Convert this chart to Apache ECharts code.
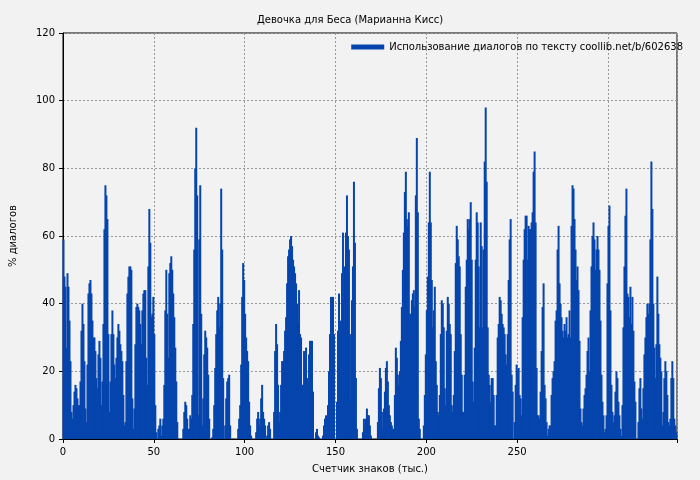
<!DOCTYPE html>
<html><head><meta charset="utf-8">
<script src="https://cdn.jsdelivr.net/npm/echarts@6/dist/echarts.min.js"></script>
<style>html,body{margin:0;padding:0;background:#f2f2f2}#c{width:700px;height:480px}</style>
</head><body><div id="c"></div>
<script>
const title = "Девочка для Беса (Марианна Кисс)";
const seriesName = "Использование диалогов по тексту coollib.net/b/602638";
const xTicks = [0,50,100,150,200,250,300];
const yTicks = [0,20,40,60,80,100,120];
const xStep = 50/91; // thousand chars per column
const seg1 = [59,48,45,27,49,45,35,23,8,6,10,14,16,15,12,10,10,17,32,40,34,23,9,5,22,43,46,47,43,35,30,30,26,18,15,25,29,24,10,17,34,62,75,72,65,31,8,17,31,38,31,22,18,24,30,34,32,28,26,23,13,4,5,23,43,48,51,51,50,12,3,9,28,39,40,39,38,34,28,38,43,44,44,24,16,51,68,58,36,37,42,31,10,2,0,3,4,6];
const seg2 = [1,4,6,16,38,50,37,24,49,52,54,50,43,36,27,17,5,0,0,0,0,0,3,8,11,10,6,3,3,7,6,13,34,56,80,92,72,7,59,75,37,4,12,25,32,30,27,19,6,0,0,0.5,3,10,21,31,38,42,33,40,74,56,18,0,4,12,17,18,19,4,0,0,0,0,0,0,0,3,6,10,22,42,52,47,37,30,26,23,11,4,1,0,0,0,0,2,6,8,4,6,12,16,8,6,4];
const seg3 = [0,1,4,5,3,0,0,0,8,26,34,28,16,5,8,16,23,23,26,32,36,46,54,56,59,60,57,53,51,49,46,40,34,44,31,30,16,16,26,24,27,18,16,25,29,29,29,14,0,0,2,3,1,0.5,0,0,0,1,4,6,7,4,10,20,31,42,38,42,31,0,0,11,32,43,35,25,49,61,41,51,61,72,60,56,31,12,41,51,76,58,18,3,0,0,0,0,0,2,6,3,6,9];
const seg4 = [7,7,4,1,0,0,0,0,0,0,5,15,21,18,8,3,9,14,21,23,17,10,7,5,4,3,3,13,27,24,19,16,20,29,39,50,61,73,79,65,63,67,37,37,41,43,44,39,72,89,67,6,3,0,0,0,4,13,25,38,48,64,79,64,47,33,38,45,23,16,8,7,13,31,41,40,33,15,10,32,42,40,34,31,10,8,13,26,52,63,59,54,51,31,19,8,8,19,45,53,65,62];
const seg5 = [65,70,53,17,11,27,53,67,64,51,33,64,57,33,56,82,98,76,33,19,16,11,18,18,13,4,4,13,30,34,42,41,37,34,33,31,25,22,31,47,59,65,19,14,0,5,16,22,20,21,13,12,7,36,53,62,66,66,53,63,62,62,64,67,79,85,64,21,7,7,6,14,26,39,46,16,12,5,1,3,4,4,13,18,20,23,35,38,56,63,46,40,36,32,30,34,32,36,30,31,38,30];
const seg6 = [63,75,74,65,56,47,51,44,29,9,5,4,9,13,15,19,26,30,20,38,51,60,64,59,50,56,60,56,50,35,19,11,7,2,3,7,46,63,69,38,16,8,5,7,14,20,18,11,7,3,1,10,33,51,66,74,43,42,36,45,34,42,32,17,11,0,0,5,15,18,9,6,15,25,30,36,40,37,40,59,82,68,40,27,18,28,48,37,28,24,20,4,8,18,23,20,13,5,4,6,18,23,18,6,4,2];
const values = [].concat(seg1, seg2, seg3, seg4, seg5, seg6);
const data = values.map((v, i) => [(i + 0.5) * xStep, v]);

const chart = echarts.init(document.getElementById('c'));
const font = 'DejaVu Sans';
chart.setOption({
  backgroundColor: '#f2f2f2',
  animation: false,
  title: {text: title, left: 'center', top: 10, textStyle: {fontSize: 10, fontWeight: 'normal', color: '#000', fontFamily: font}},
  legend: {data: [seriesName], right: 12, top: 37, itemWidth: 33, itemHeight: 5, itemGap: 8,
    textStyle: {fontSize: 10, color: '#000', fontFamily: font}, icon: 'rect'},
  grid: {left: 61, right: 23, top: 33, bottom: 41, show: true, borderColor: '#000', borderWidth: 1},
  xAxis: {type: 'value', min: 0, max: 338, interval: 50,
    name: 'Счетчик знаков (тыс.)', nameLocation: 'middle', nameGap: 25,
    nameTextStyle: {fontSize: 10, color: '#000', fontFamily: font},
    axisLine: {lineStyle: {color: '#000'}}, axisTick: {length: 4, lineStyle: {color: '#000'}},
    axisLabel: {fontSize: 10, color: '#000', fontFamily: font, showMaxLabel: false, customValues: xTicks},
    splitLine: {show: true, lineStyle: {color: '#999', type: [2, 2]}}},
  yAxis: {type: 'value', min: 0, max: 120, interval: 20,
    name: '% диалогов', nameLocation: 'middle', nameGap: 45,
    nameTextStyle: {fontSize: 10, color: '#000', fontFamily: font},
    axisLine: {show: true, lineStyle: {color: '#000'}}, axisTick: {show: true, length: 4, lineStyle: {color: '#000'}},
    axisLabel: {fontSize: 10, color: '#000', fontFamily: font},
    splitLine: {show: true, lineStyle: {color: '#999', type: [2, 2]}}},
  series: [{name: seriesName, type: 'bar', data: data, barWidth: 2, barGap: '-100%',
    itemStyle: {color: '#0645ad'}, large: false}]
});
</script></body></html>
